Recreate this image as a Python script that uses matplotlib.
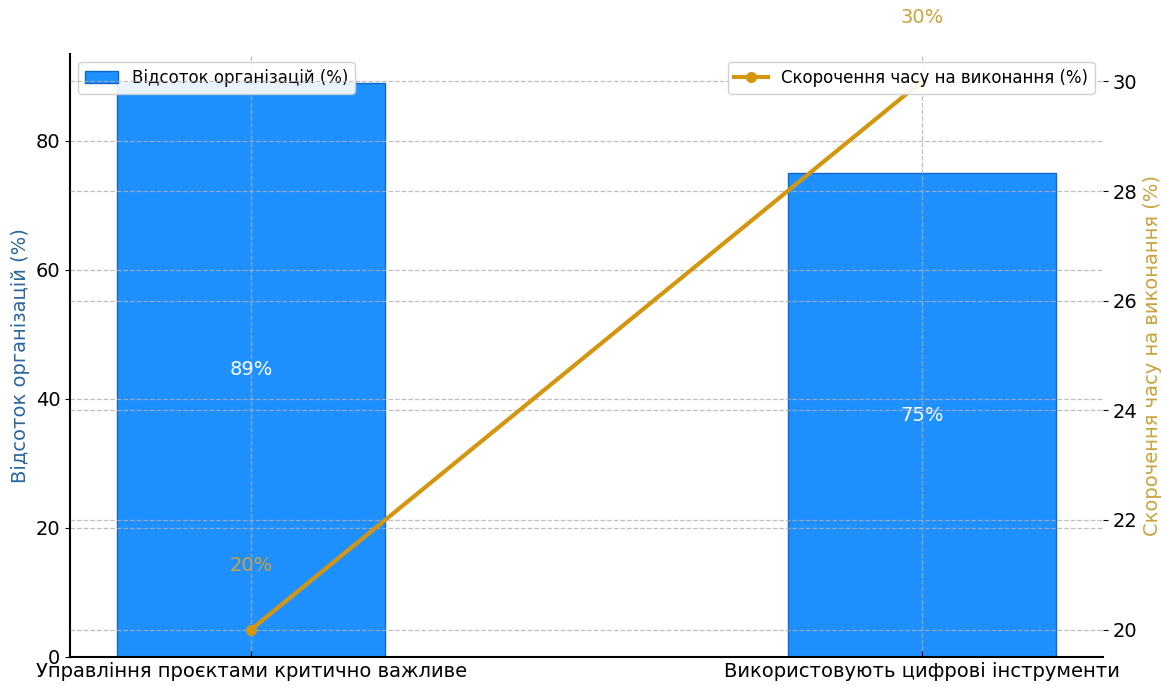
import matplotlib
matplotlib.use("Agg")
import matplotlib.pyplot as plt
import numpy as np

plt.rcParams['font.family'] = ['DejaVu Sans']

categories = ["Управління проєктами критично важливе", "Використовують цифрові інструменти"]
org_share = [89, 75]
time_reduction = [20, 30]

bar_color = "#1E90FF"
line_color = "#D4960F"
label_gold = "#C9A23A"
grid_kw = dict(linestyle="--", color="#B0B0B0", linewidth=0.9, alpha=0.8)

fig = plt.figure(figsize=(11.62, 6.86), dpi=100)
ax = fig.add_axes([0.0602, 0.0423, 0.889, 0.879])
x = np.arange(len(categories))

ax.bar(x, org_share, width=0.4, color=bar_color, edgecolor="#1467C8",
       linewidth=1, label="Відсоток організацій (%)")
for xi, v in zip(x, org_share):
    ax.text(xi, v / 2, f"{v}%", ha="center", va="center", color="white", fontsize=14, zorder=3)

ax.set_xticks(x)
ax.set_xticklabels(categories, fontsize=14)
ax.tick_params(axis="y", labelsize=14)
ax.tick_params(axis="x", direction="in", length=4)
ax.set_ylabel("Відсоток організацій (%)", color="#2A66A0", fontsize=14)
ax.grid(True, **grid_kw)
for s in ("top", "right"):
    ax.spines[s].set_visible(False)
ax.spines["left"].set_linewidth(1.5)
ax.spines["bottom"].set_linewidth(1.5)

ax2 = ax.twinx()
ax2.plot(x, time_reduction, color=line_color, linewidth=3, marker="o", markersize=7,
         label="Скорочення часу на виконання (%)", zorder=4)
for xi, v in zip(x, time_reduction):
    ax2.text(xi, v + 1, f"{v}%", ha="center", va="bottom", color=label_gold,
             fontsize=14, clip_on=False)
ax2.set_ylabel("Скорочення часу на виконання (%)", color=label_gold, fontsize=14)
ax2.tick_params(axis="y", labelsize=14)
ax2.grid(True, axis="y", **grid_kw)
for s in ("top", "right", "left", "bottom"):
    ax2.spines[s].set_visible(False)

ax.legend(loc="upper left", fontsize=12, framealpha=0.9)
ax2.legend(loc="upper right", fontsize=12, framealpha=0.9)

fig.savefig("out.png", dpi=100)
